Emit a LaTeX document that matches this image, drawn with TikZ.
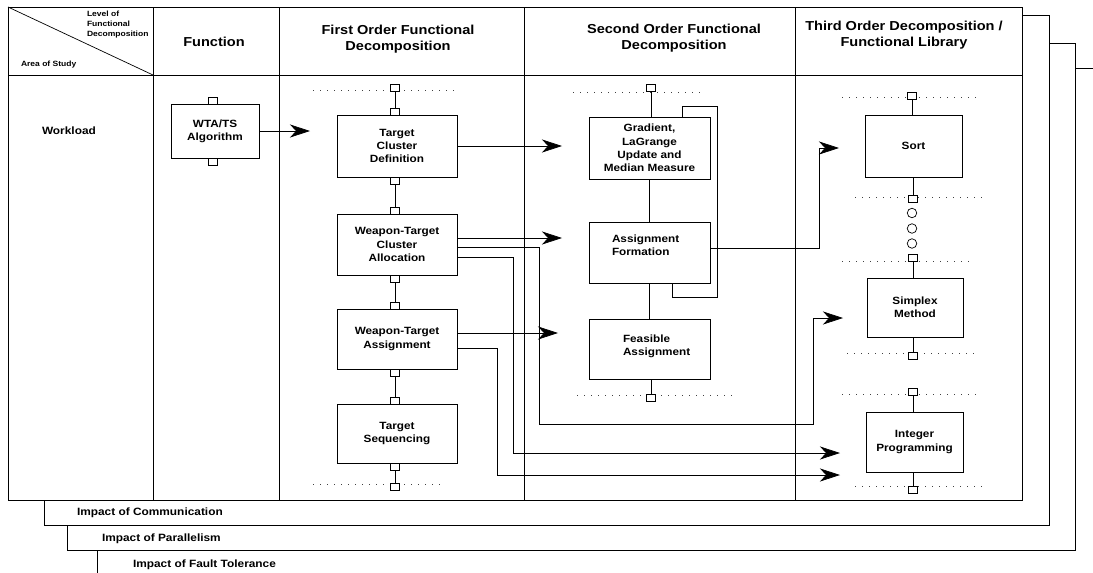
\documentclass[tikz,border=0pt]{standalone}
\usepackage{fontspec}
\newfontfamily\dfont{Liberation Sans}[FakeStretch=1.12]
\usetikzlibrary{arrows.meta,calc}

\begin{document}
\begin{tikzpicture}[x=1pt,y=-1pt,
  line width=0.7pt,
  every node/.style={inner sep=0pt, outer sep=0pt},
  box/.style={draw, line width=0.8pt, rectangle, font=\dfont\bfseries\fontsize{10.5}{13.3}\selectfont, align=center},
  port/.style={draw, line width=0.7pt, minimum width=9pt, minimum height=7pt, fill=white},
  ring/.style={draw, circle, line width=0.7pt, minimum size=9.5pt, fill=white},
  boxtxt/.style={font=\dfont\bfseries\fontsize{10.5}{13.3}\selectfont, align=left},
  headtxt/.style={font=\dfont\bfseries\fontsize{13}{16}\selectfont, align=center},
  tinytxt/.style={font=\dfont\bfseries\fontsize{7.6}{10}\selectfont, align=left},
  rowtxt/.style={font=\dfont\bfseries\fontsize{10.6}{12}\selectfont},
  dots/.style={draw=black!75, line width=0.6pt, dash pattern=on 1pt off 6pt},
  arr/.style={-{Stealth[length=20pt,width=13pt,inset=6pt]}}
]
\useasboundingbox (0,0) rectangle (1093,573);

% ---- stacked frames for the areas of study ----
\draw (97,550) -- (97,573);
\draw (1075,68) -- (1093,68);
\draw (67,525) -- (67,550) -- (1075,550) -- (1075,43) -- (1049,43);
\draw (44,500) -- (44,525) -- (1049,525) -- (1049,15) -- (1022,15);

% ---- main table ----
\draw (8,7) rectangle (1022,500);
\draw (8,75) -- (1022,75);
\draw (8,7) -- (153,75);
\foreach \cx in {153,279,524,795} \draw (\cx,7) -- (\cx,500);

% ---- headings ----
\node[tinytxt, anchor=west] (lvl) at (87,25) {Level of\\Functional\\Decomposition};
\node[tinytxt, anchor=west] (aos) at (21,65) {Area of Study};
\node[headtxt] (hfun) at (214,42) {Function};
\node[headtxt] (hfirst) at (398,39) {First Order Functional\\Decomposition};
\node[headtxt] (hsecond) at (674,38) {Second Order Functional\\Decomposition};
\node[headtxt] (hthird) at (904,35) {Third Order Decomposition /\\Functional Library};
\node[rowtxt, anchor=west] (work) at (42,131) {Workload};
\node[rowtxt, anchor=west] (icom) at (77,513) {Impact of Communication};
\node[rowtxt, anchor=west] (ipar) at (102,539) {Impact of Parallelism};
\node[rowtxt, anchor=west] (ifau) at (133,565) {Impact of Fault Tolerance};

% ---- dotted level guides ----
\draw[dots] (313,90) -- (455,90);
\draw[dots] (313,484) -- (440,484);
\draw[dots] (573,92) -- (700,92);
\draw[dots] (577,395) -- (735,395);
\draw[dots] (842,97) -- (980,97);
\draw[dots] (855,197) -- (985,197);
\draw[dots] (842,261) -- (970,261);
\draw[dots] (847,353) -- (980,353);
\draw[dots] (842,394) -- (980,394);
\draw[dots] (855,486) -- (985,486);

% ---- function ----
\node[box, minimum width=88pt, minimum height=54pt] (wta) at (215,131) {WTA/TS\\Algorithm};
\node[port, anchor=south] (pw1) at (213,104) {};
\node[port, anchor=north] (pw2) at (213,158) {};

% ---- first order ----
\node[box, minimum width=120pt, minimum height=62pt] (tcd) at (397,146) {Target\\Cluster\\Definition};
\node[box, minimum width=120pt, minimum height=61pt] (wtca) at (397,244.5) {Weapon-Target\\Cluster\\Allocation};
\node[box, minimum width=120pt, minimum height=60pt] (wtas) at (397,339) {Weapon-Target\\Assignment};
\node[box, minimum width=120pt, minimum height=59pt] (tseq) at (397,433.5) {Target\\Sequencing};

\node[port] (p1a) at (395,88) {};
\node[port, anchor=south] (p1b) at (395,115) {};
\node[port, anchor=north] (p1c) at (395,177) {};
\node[port, anchor=south] (p1d) at (395,214) {};
\node[port, anchor=north] (p1e) at (395,275) {};
\node[port, anchor=south] (p1f) at (395,309) {};
\node[port, anchor=north] (p1g) at (395,369) {};
\node[port, anchor=south] (p1h) at (395,404) {};
\node[port, anchor=north] (p1i) at (395,463) {};
\node[port] (p1j) at (395,487) {};
\draw (p1a.south) -- (p1b.north);
\draw (p1c.south) -- (p1d.north);
\draw (p1e.south) -- (p1f.north);
\draw (p1g.south) -- (p1h.north);
\draw (p1i.south) -- (p1j.north);

% ---- second order ----
\node[box, minimum width=121pt, minimum height=62pt] (grad) at (649.5,148) {Gradient,\\LaGrange\\Update and\\Median Measure};
\node[box, minimum width=121pt, minimum height=61pt] (af) at (649.5,252.5) {};
\node[boxtxt, anchor=west] (aft) at (612,245.5) {Assignment\\Formation};
\node[box, minimum width=121pt, minimum height=60pt] (fa) at (649.5,349) {};
\node[boxtxt, anchor=west] (fat) at (623,346.5) {Feasible\\Assignment};
\node[port] (p2a) at (651,87.5) {};
\node[port] (p2b) at (651,397.5) {};
\draw (p2a.south) -- (grad.north -| p2a);
\draw (grad.south) -- (af.north);
\draw (af.south) -- (fa.north);
\draw (fa.south -| p2b) -- (p2b.north);
\draw (af.south -| 672,0) -- (672,297) -- (717,297) -- (717,106) -- (682,106) -- (grad.north -| 682,0);

% ---- third order / library ----
\node[box, minimum width=97pt, minimum height=62pt] (sort) at (913.5,146) {Sort};
\node[box, minimum width=96pt, minimum height=59pt] (simp) at (915,307.5) {Simplex\\Method};
\node[box, minimum width=97pt, minimum height=60pt] (ip) at (914.5,442) {Integer\\Programming};
\node[port] (p3a) at (912,95.5) {};
\node[port] (p3b) at (913,199) {};
\node[ring] (c1) at (912,213) {};
\node[ring] (c2) at (912,228.5) {};
\node[ring] (c3) at (912,243.5) {};
\node[port] (p3c) at (913,257.5) {};
\node[port] (p3d) at (913,356) {};
\node[port] (p3e) at (913,391.5) {};
\node[port] (p3f) at (913,489.5) {};
\draw (p3a.south) -- (sort.north -| p3a);
\draw (sort.south -| p3b) -- (p3b.north);
\draw (p3c.south) -- (simp.north -| p3c);
\draw (simp.south -| p3d) -- (p3d.north);
\draw (p3e.south) -- (ip.north -| p3e);
\draw (ip.south -| p3f) -- (p3f.north);

% ---- flows between levels ----
\coordinate (t0) at (310,131);
\coordinate (t1) at (562,146);
\coordinate (t2) at (562,238);
\coordinate (t3) at (843,318);
\coordinate (t4) at (840,453);
\coordinate (t5) at (558,333);
\coordinate (t6) at (840,475);
\coordinate (t7) at (839,148);
\draw[arr] (wta.east) -- (t0);
\draw[arr] (tcd.east) -- (t1);
\draw[arr] (wtca.east |- t2) -- (t2);
\draw[arr] (wtca.east |- 0,247) -- (539,247) -- (539,424) -- (813,424) -- (813,318) -- (t3);
\draw[arr] (wtca.east |- 0,257) -- (513,257) -- (513,453) -- (t4);
\draw[arr] (wtas.east |- t5) -- (t5);
\draw[arr] (wtas.east |- 0,348) -- (497,348) -- (497,475) -- (t6);
\draw[arr] (af.east |- 0,248) -- (819,248) -- (819,148) -- (t7);
\end{tikzpicture}
\end{document}
